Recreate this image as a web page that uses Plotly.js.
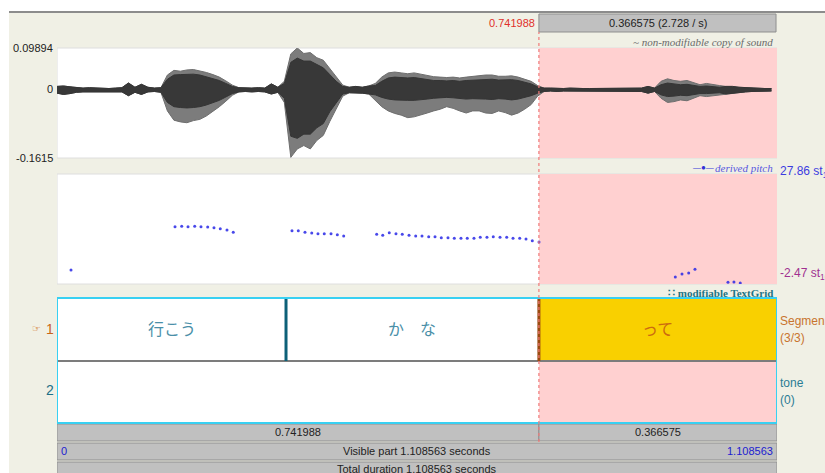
<!DOCTYPE html>
<html><head><meta charset="utf-8">
<script src="https://cdn.plot.ly/plotly-3.0.1.min.js"></script>
<style>html,body{margin:0;padding:0;background:#fff;overflow:hidden}#chart{width:825px;height:473px;}</style>
</head><body><div id="chart"></div>
<script>
// ---- data ----
const totalDuration = 1.108563;
const selStart = 0.741988;
const selEnd = 1.108563;
const selDuration = 0.366575;
const selRate = 2.728;
const waveTop = 0.09894, waveBottom = -0.1615;
const pitchTop = 27.86, pitchBottom = -2.47;

const waveT = [0.00,0.01,0.02,0.03,0.04,0.05,0.06,0.07,0.08,0.09,
  0.10,0.11,0.12,0.13,0.14,0.15,0.16,0.17,0.18,0.19,
  0.20,0.21,0.22,0.23,0.24,0.25,0.26,0.27,0.28,0.29,
  0.30,0.31,0.32,0.33,0.34,0.35,0.36,0.37,0.38,0.39,
  0.40,0.41,0.42,0.43,0.44,0.45,0.46,0.47,0.48,0.49,
  0.50,0.51,0.52,0.53,0.54,0.55,0.56,0.57,0.58,0.59,
  0.60,0.61,0.62,0.63,0.64,0.65,0.66,0.67,0.68,0.69,
  0.70,0.71,0.72,0.73,0.74,0.75,0.76,0.77,0.78,0.79,
  0.80,0.81,0.82,0.83,0.84,0.85,0.86,0.87,0.88,0.89,
  0.90,0.91,0.92,0.93,0.94,0.95,0.96,0.97,0.98,0.99,
  1.00,1.01,1.02,1.03,1.04,1.05,1.06,1.07,1.08,1.09,1.10];
// peak envelope (outer spikes)
const waveHi = [0.008,0.009,0.007,0.005,0.004,0.005,0.004,0.004,0.003,0.004,
  0.005,0.016,0.006,0.013,0.006,0.004,0.005,0.035,0.046,0.044,
  0.047,0.048,0.045,0.041,0.036,0.030,0.021,0.011,0.005,0.004,
  0.004,0.005,0.004,0.014,0.006,0.020,0.085,0.099,0.086,0.088,
  0.076,0.070,0.050,0.030,0.011,0.006,0.008,0.006,0.009,0.015,
  0.030,0.040,0.042,0.040,0.038,0.040,0.037,0.035,0.031,0.030,
  0.029,0.030,0.028,0.030,0.032,0.033,0.035,0.035,0.032,0.032,
  0.033,0.030,0.025,0.020,0.010,0.004,0.004,0.003,0.003,0.004,
  0.003,0.003,0.003,0.003,0.003,0.004,0.003,0.003,0.003,0.003,
  0.004,0.008,0.004,0.020,0.026,0.022,0.020,0.022,0.017,0.012,
  0.015,0.012,0.010,0.008,0.008,0.006,0.005,0.004,0.004,0.003,0.003];
const waveLo = [-0.008,-0.011,-0.009,-0.006,-0.005,-0.005,-0.004,-0.005,-0.004,-0.004,
  -0.005,-0.014,-0.006,-0.011,-0.005,-0.004,-0.006,-0.050,-0.072,-0.076,
  -0.078,-0.073,-0.070,-0.062,-0.052,-0.040,-0.027,-0.013,-0.005,-0.004,
  -0.005,-0.004,-0.005,-0.010,-0.006,-0.030,-0.160,-0.140,-0.132,-0.140,
  -0.120,-0.108,-0.075,-0.045,-0.015,-0.007,-0.007,-0.008,-0.010,-0.025,
  -0.040,-0.050,-0.056,-0.060,-0.066,-0.064,-0.060,-0.055,-0.050,-0.046,
  -0.040,-0.044,-0.050,-0.055,-0.050,-0.050,-0.055,-0.056,-0.050,-0.054,
  -0.060,-0.055,-0.046,-0.035,-0.015,-0.004,-0.003,-0.004,-0.003,-0.003,
  -0.003,-0.004,-0.003,-0.003,-0.003,-0.003,-0.003,-0.003,-0.003,-0.004,
  -0.004,-0.008,-0.004,-0.020,-0.030,-0.028,-0.024,-0.026,-0.020,-0.014,
  -0.016,-0.014,-0.012,-0.010,-0.008,-0.006,-0.005,-0.004,-0.004,-0.003,-0.003];
// dense dark core of the waveform
const coreHi = [0.008,0.009,0.007,0.005,0.004,0.005,0.004,0.004,0.003,0.004,
  0.005,0.016,0.006,0.013,0.006,0.004,0.005,0.025,0.035,0.036,
  0.037,0.037,0.035,0.031,0.027,0.022,0.015,0.008,0.005,0.004,
  0.004,0.005,0.004,0.014,0.006,0.015,0.065,0.075,0.068,0.068,
  0.060,0.052,0.036,0.020,0.008,0.006,0.008,0.006,0.009,0.010,
  0.020,0.028,0.030,0.029,0.028,0.029,0.027,0.025,0.022,0.022,
  0.021,0.022,0.020,0.022,0.023,0.024,0.025,0.025,0.023,0.023,
  0.024,0.022,0.018,0.014,0.007,0.004,0.004,0.003,0.003,0.004,
  0.003,0.003,0.003,0.003,0.003,0.004,0.003,0.003,0.003,0.003,
  0.004,0.008,0.004,0.012,0.016,0.014,0.012,0.013,0.010,0.008,
  0.009,0.007,0.006,0.008,0.008,0.006,0.005,0.004,0.004,0.003,0.003];
const coreLo = [-0.008,-0.011,-0.009,-0.006,-0.005,-0.005,-0.004,-0.005,-0.004,-0.004,
  -0.005,-0.014,-0.006,-0.011,-0.005,-0.004,-0.006,-0.030,-0.040,-0.042,
  -0.043,-0.042,-0.040,-0.036,-0.031,-0.025,-0.017,-0.009,-0.005,-0.004,
  -0.005,-0.004,-0.005,-0.010,-0.006,-0.020,-0.110,-0.115,-0.105,-0.105,
  -0.090,-0.080,-0.052,-0.030,-0.010,-0.007,-0.007,-0.008,-0.010,-0.012,
  -0.018,-0.022,-0.024,-0.025,-0.025,-0.025,-0.024,-0.022,-0.020,-0.019,
  -0.018,-0.019,-0.020,-0.022,-0.021,-0.021,-0.022,-0.023,-0.021,-0.022,
  -0.024,-0.022,-0.018,-0.014,-0.008,-0.004,-0.003,-0.004,-0.003,-0.003,
  -0.003,-0.004,-0.003,-0.003,-0.003,-0.003,-0.003,-0.003,-0.003,-0.004,
  -0.004,-0.008,-0.004,-0.012,-0.016,-0.015,-0.013,-0.014,-0.011,-0.009,
  -0.009,-0.008,-0.007,-0.010,-0.008,-0.006,-0.005,-0.004,-0.004,-0.003,-0.003];

const pitchT = [0.0216,
  0.1817,0.1920,0.2017,0.2120,0.2217,0.2320,0.2417,0.2514,0.2617,0.2714,
  0.3618,0.3715,0.3818,0.3922,0.4018,0.4115,0.4219,0.4316,0.4414,
  0.4922,0.5015,0.5116,0.5219,0.5316,0.5420,0.5523,0.5620,0.5723,0.5820,
  0.5917,0.6020,0.6117,0.6220,0.6317,0.6420,0.6517,0.6620,0.6717,0.6821,
  0.6924,0.7021,0.7124,0.7221,0.7318,0.7421,
  0.9520,0.9623,0.9726,0.9823,1.0331,1.0423,1.0520];
const pitchSt = [1.39,
  13.33,13.44,13.33,13.44,13.33,13.25,13.05,12.78,12.42,11.79,
  12.23,12.23,11.79,11.59,11.40,11.40,11.40,11.13,10.77,
  11.24,10.96,11.68,11.40,11.24,10.96,10.77,10.77,10.57,10.57,
  10.30,10.30,10.13,10.13,10.13,10.13,10.41,10.41,10.57,10.41,
  10.41,10.13,10.13,9.94,9.47,9.11,
  -0.54,0.29,0.57,1.59,-1.99,-1.92,-2.19];

const tier1Start = [0, 0.3526, 0.741988];
const tier1End = [0.3526, 0.741988, 1.108563];
const tier1Text = ['行こう', 'か　な', 'って'];
const tierNames = ['Segmen', 'tone'];
const tierCounts = ['(3/3)', '(0)'];

// ---- pixel helpers for the frame ----
const W = 825, H = 473;
const px = v => v / W;
const py = v => 1 - v / H;
const SANS = 'Liberation Sans, Arial, sans-serif';
const SERIF = 'Liberation Serif, Times New Roman, serif';
const CJK = 'Noto Sans CJK JP, sans-serif';

const traces = [
  {x: waveT, y: waveHi, xaxis: 'x', yaxis: 'y', mode: 'lines',
   line: {color: '#6e6e6e', width: 1}, hoverinfo: 'skip', showlegend: false},
  {x: waveT, y: waveLo, xaxis: 'x', yaxis: 'y', mode: 'lines', fill: 'tonexty',
   fillcolor: '#7c7c7c', line: {color: '#6e6e6e', width: 1}, hoverinfo: 'skip', showlegend: false},
  {x: waveT, y: coreHi, xaxis: 'x', yaxis: 'y', mode: 'lines',
   line: {color: '#353535', width: 1}, hoverinfo: 'skip', showlegend: false},
  {x: waveT, y: coreLo, xaxis: 'x', yaxis: 'y', mode: 'lines', fill: 'tonexty',
   fillcolor: '#383838', line: {color: '#353535', width: 1}, hoverinfo: 'skip', showlegend: false},
  {x: pitchT, y: pitchSt, xaxis: 'x', yaxis: 'y2', mode: 'markers',
   marker: {color: 'rgba(40,40,230,0.85)', size: 3}, hoverinfo: 'skip', showlegend: false}
];

const shapes = [];
const ann = [];
function rectP(x0, y0, x1, y1, fill, line, lw, layer) {
  shapes.push({type: 'rect', xref: 'paper', yref: 'paper', x0: px(x0), x1: px(x1), y0: py(y1), y1: py(y0),
    fillcolor: fill, line: {color: line || 'rgba(0,0,0,0)', width: lw || 0}, layer: layer || 'below'});
}
function rectT(t0, t1, y0, y1, fill, line, lw, layer) {
  shapes.push({type: 'rect', xref: 'x', yref: 'paper', x0: t0, x1: t1, y0: py(y1), y1: py(y0),
    fillcolor: fill, line: {color: line || 'rgba(0,0,0,0)', width: lw || 0}, layer: layer || 'below'});
}
function vlineT(t, y0, y1, color, w, dash, layer) {
  shapes.push({type: 'line', xref: 'x', yref: 'paper', x0: t, x1: t, y0: py(y1), y1: py(y0),
    line: {color: color, width: w, dash: dash || 'solid'}, layer: layer || 'above'});
}
function text(t, x, y, opts) {
  ann.push(Object.assign({text: t, xref: 'paper', yref: 'paper', x: px(x), y: py(y), showarrow: false,
    xanchor: 'center', yanchor: 'middle', font: {family: SANS, size: 11, color: '#222'}}, opts || {}));
}

// frame
rectP(0, 0, 825, 11, '#ffffff');
rectP(0, 0, 9, 473, '#ffffff');
shapes.push({type: 'line', xref: 'paper', yref: 'paper', x0: px(9), x1: 1, y0: py(12), y1: py(12),
  line: {color: '#8c8c8c', width: 2}, layer: 'below'});

// top selection bar
rectT(selStart, selEnd - 0.0015, 14, 32, '#c0c0c0', '#8f8f8f', 1);
text(selDuration.toFixed(6) + ' (' + selRate.toFixed(3) + ' / s)', 0, 23,
  {xref: 'x', x: (selStart + selEnd) / 2});
text(selStart.toFixed(6), 537, 23, {xanchor: 'right', font: {family: SANS, size: 11, color: '#e0302a'}});

// waveform panel
rectT(0, totalDuration, 48, 158, '#ffffff', '#dedede', 1);
rectT(selStart, selEnd, 48, 158, '#ffd0d0');
text('~ non-modifiable copy of sound', 775, 42, {xanchor: 'right',
  font: {family: SERIF, size: 11, color: '#6a6a6a', style: 'italic'}});
text(String(waveTop), 55, 48, {xanchor: 'right'});
text('0', 55, 89, {xanchor: 'right'});
text(String(waveBottom), 55, 158, {xanchor: 'right'});

// pitch panel
rectT(0, totalDuration, 174, 284, '#ffffff', '#dedede', 1);
rectT(selStart, selEnd, 174, 284, '#ffd0d0');
text('<i>derived pitch</i>', 775, 168, {xanchor: 'right',
  font: {family: SERIF, size: 11, color: '#5858e0'}});
text('—●—', 716, 167, {xanchor: 'right', font: {family: SANS, size: 8, color: '#3030d8'}});
text(pitchTop.toFixed(2) + ' st<sub>100</sub>', 778, 172, {xanchor: 'left',
  font: {family: SANS, size: 12, color: '#3c3ce0'}});
text(pitchBottom.toFixed(2) + ' st<sub>100</sub>', 778, 274, {xanchor: 'left',
  font: {family: SANS, size: 12, color: '#a03090'}});

// textgrid
text('<b>∷ modifiable TextGrid</b>', 775, 293, {xanchor: 'right',
  font: {family: SERIF, size: 11, color: '#1f7585'}});
rectT(0, totalDuration, 298, 423, '#ffffff');
rectT(tier1Start[2], tier1End[2], 298, 361, '#f9d000');
rectT(selStart, selEnd, 361, 423, '#ffd0d0');
shapes.push({type: 'line', xref: 'x', yref: 'paper', x0: 0, x1: totalDuration, y0: py(361), y1: py(361),
  line: {color: '#7c7c7c', width: 2}, layer: 'below'});
vlineT(tier1End[0], 298, 361, '#0d6078', 3);
vlineT(tier1End[1], 298, 361, '#9a4a10', 3);
tier1Text.forEach((s, i) => {
  const sel = tier1Start[i] >= selStart;
  text(s, 0, 328, {xref: 'x', x: (tier1Start[i] + tier1End[i]) / 2,
    font: {family: CJK, size: 16, color: sel ? '#cc6a10' : '#4a8fa8'}});
});
rectT(0, totalDuration, 298, 423, 'rgba(0,0,0,0)', '#38d0f2', 2, 'above');
text('☞', 36, 328, {font: {family: 'DejaVu Sans', size: 10, color: '#d07020'}});
text('1', 50, 329, {font: {family: SANS, size: 14, color: '#c86418'}});
text('2', 50, 390, {font: {family: SANS, size: 14, color: '#1d6f86'}});
text(tierNames[0], 778, 321, {xanchor: 'left', font: {family: SANS, size: 12, color: '#c8742e'}});
text(tierCounts[0], 778, 338, {xanchor: 'left', font: {family: SANS, size: 12, color: '#c8742e'}});
text(tierNames[1], 778, 383, {xanchor: 'left', font: {family: SANS, size: 12, color: '#2b7c94'}});
text(tierCounts[1], 778, 400, {xanchor: 'left', font: {family: SANS, size: 12, color: '#2b7c94'}});

// red dotted cursor
vlineT(selStart, 32, 442, '#f07a7a', 1.2, 'dot');

// bottom bars
rectT(0, selStart, 424, 441, '#c0c0c0', '#8f8f8f', 1);
rectT(selStart, totalDuration, 424, 441, '#c0c0c0', '#8f8f8f', 1);
rectT(0, totalDuration, 443, 460, '#c0c0c0', '#8f8f8f', 1);
rectT(0, totalDuration, 462, 480, '#c0c0c0', '#8f8f8f', 1);
text(selStart.toFixed(6), 0, 432, {xref: 'x', x: selStart / 2});
text(selDuration.toFixed(6), 0, 432, {xref: 'x', x: (selStart + totalDuration) / 2});
text('0', 59, 451, {xanchor: 'left', font: {family: SANS, size: 11, color: '#2020d0'}});
text('Visible part ' + totalDuration.toFixed(6) + ' seconds', 0, 451, {xref: 'x', x: totalDuration / 2});
text(totalDuration.toFixed(6), 775, 451, {xanchor: 'right', font: {family: SANS, size: 11, color: '#2020d0'}});
text('Total duration ' + totalDuration.toFixed(6) + ' seconds', 0, 469, {xref: 'x', x: totalDuration / 2});

const hidden = {visible: false, fixedrange: true};
const layout = {
  width: W, height: H, margin: {l: 0, r: 0, t: 0, b: 0},
  paper_bgcolor: '#f0f0e5', plot_bgcolor: 'rgba(0,0,0,0)', showlegend: false,
  xaxis: Object.assign({domain: [px(57), px(777)], range: [0, totalDuration], anchor: 'y'}, hidden),
  yaxis: Object.assign({domain: [py(158), py(48)], range: [waveBottom, waveTop], anchor: 'x'}, hidden),
  yaxis2: Object.assign({domain: [py(284), py(174)], range: [pitchBottom, pitchTop], anchor: 'x'}, hidden),
  shapes: shapes, annotations: ann
};
Plotly.newPlot('chart', traces, layout, {displayModeBar: false, staticPlot: true});
</script></body></html>
